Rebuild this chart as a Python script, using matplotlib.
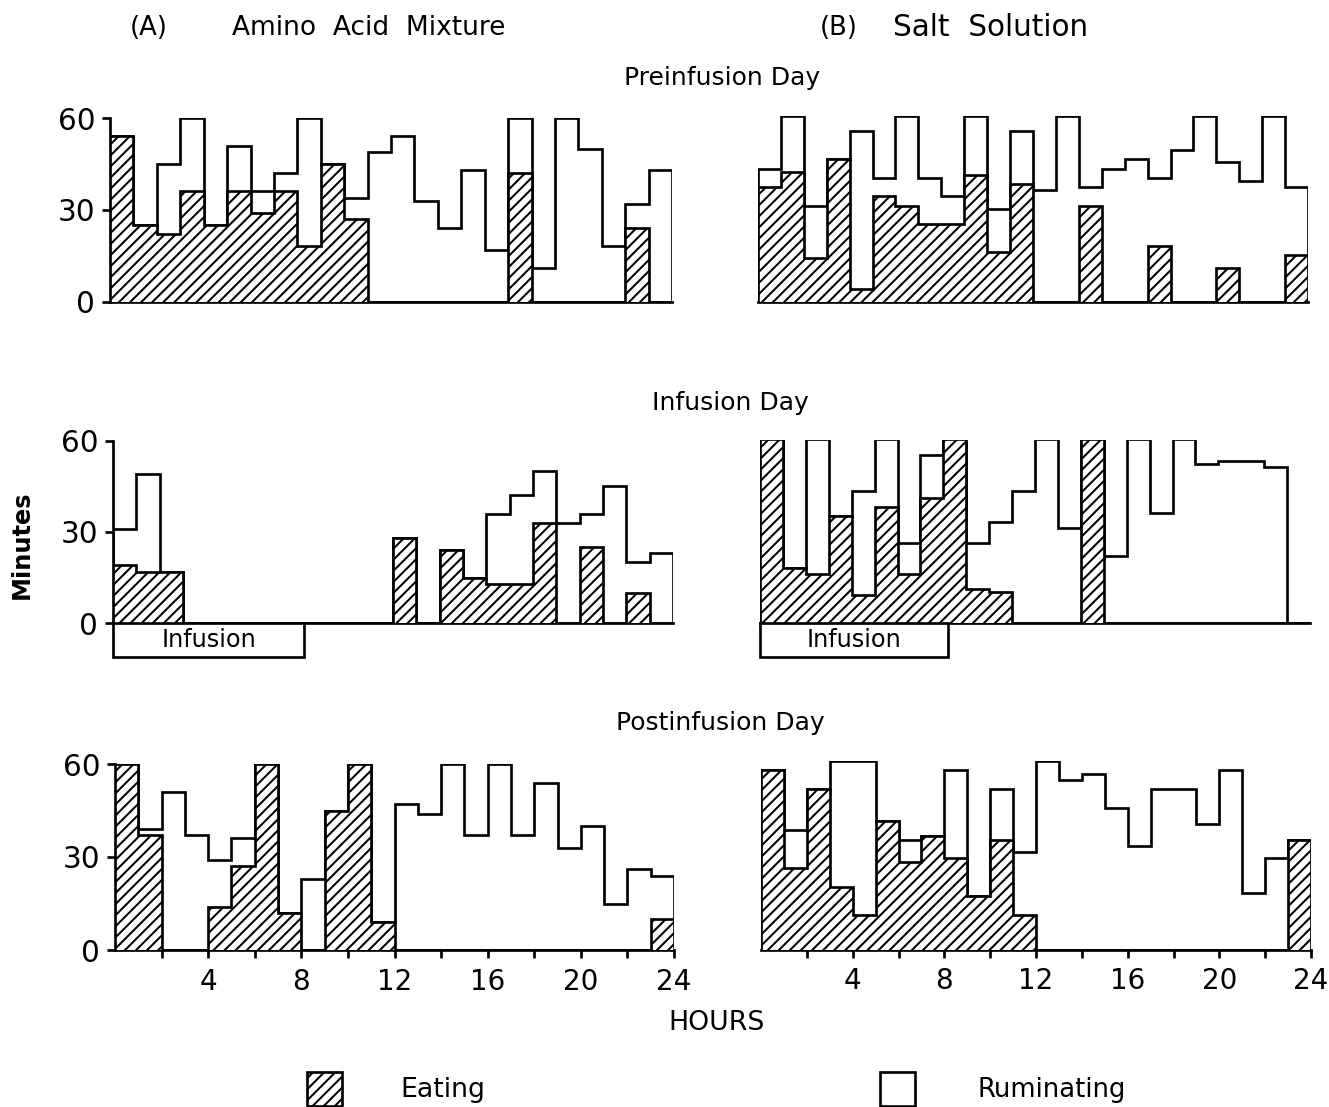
import numpy as np
import matplotlib
matplotlib.use("Agg")
import matplotlib.pyplot as plt
from matplotlib.patches import Rectangle

plt.rcParams['font.family'] = ['DejaVu Sans']
plt.rcParams['hatch.linewidth'] = 1.1
plt.rcParams['hatch.color'] = 'black'

# Hour edges of the 24 one-hour bins
hour_edges = np.arange(25)

# Minutes per hour spent eating and ruminating (ruminating sits on top of eating)
pre_a_eat = [54, 25, 22, 36, 25, 36, 29, 36, 18, 45, 27, 0, 0, 0, 0, 0, 0, 42, 0, 0, 0, 0, 24, 0]
pre_a_rum = [0, 0, 23, 24, 0, 15, 7, 6, 42, 0, 7, 49, 54, 33, 24, 43, 17, 18, 11, 60, 50, 18, 8, 43]

pre_b_eat = [37, 42, 14, 46, 4, 34, 31, 25, 25, 41, 16, 38, 0, 0, 31, 0, 0, 18, 0, 0, 11, 0, 0, 15]
pre_b_rum = [6, 18, 17, 0, 51, 6, 29, 15, 9, 19, 14, 17, 36, 60, 6, 43, 46, 22, 49, 60, 34, 39, 60, 22]

inf_a_eat = [19, 17, 17, 0, 0, 0, 0, 0, 0, 0, 0, 0, 28, 0, 24, 15, 13, 13, 33, 0, 25, 0, 10, 0]
inf_a_rum = [12, 32, 0, 0, 0, 0, 0, 0, 0, 0, 0, 0, 0, 0, 0, 0, 23, 29, 17, 33, 11, 45, 10, 23]

inf_b_eat = [60, 18, 16, 35, 9, 38, 16, 41, 60, 11, 10, 0, 0, 0, 60, 0, 0, 0, 0, 0, 0, 0, 0, 0]
inf_b_rum = [0, 0, 44, 0, 34, 22, 10, 14, 0, 15, 23, 43, 60, 31, 0, 22, 60, 36, 60, 52, 53, 53, 51, 0]

post_a_eat = [60, 37, 0, 0, 14, 27, 60, 12, 0, 45, 60, 9, 0, 0, 0, 0, 0, 0, 0, 0, 0, 0, 0, 10]
post_a_rum = [0, 2, 51, 37, 15, 9, 0, 0, 23, 0, 0, 0, 47, 44, 60, 37, 60, 37, 54, 33, 40, 15, 26, 14]

post_b_eat = [57, 26, 51, 20, 11, 41, 28, 36, 29, 17, 35, 11, 0, 0, 0, 0, 0, 0, 0, 0, 0, 0, 0, 35]
post_b_rum = [0, 12, 0, 40, 49, 0, 7, 0, 28, 0, 16, 20, 60, 54, 56, 45, 33, 51, 51, 40, 57, 18, 29, 0]

# Infusion period (hours) marked under the infusion-day panels
infusion_span = (0, 8.2)

y_ticks = [0, 30, 60]
x_ticks = list(range(2, 25, 2))
x_labels = ['' if h % 4 else str(h) for h in x_ticks]

W, H = 1329, 1107
DPI = 133
fig = plt.figure(figsize=(W / DPI, H / DPI), dpi=DPI)
fig.patch.set_facecolor('white')

LW = 1.45
HATCH = '////'


def add_panel(x0, x24, base, top60):
    return fig.add_axes([x0 / W, 1 - base / H, (x24 - x0) / W, (base - top60) / H])


def draw_panel(ax, eat, rum, left_col, bottom_row, infusion=False):
    eat = np.asarray(eat, float)
    total = eat + np.asarray(rum, float)
    # Outline of total activity per hour
    ax.stairs(total, hour_edges, baseline=0, fill=False, color='black',
              linewidth=LW, zorder=2)
    # Eating portion, hatched
    ax.stairs(eat, hour_edges, baseline=0, fill=True, facecolor='white',
              edgecolor='black', hatch=HATCH, linewidth=LW, zorder=3)
    ax.set_xlim(0, 24)
    ax.set_ylim(0, 60)
    for s in ('top', 'right'):
        ax.spines[s].set_visible(False)
    ax.spines['bottom'].set_linewidth(LW)
    ax.spines['left'].set_linewidth(LW)
    ax.spines['left'].set_bounds(0, 60)
    ax.set_facecolor('none')
    if left_col:
        ax.set_yticks(y_ticks)
        ax.tick_params(axis='y', direction='out', length=4.5, width=LW,
                       labelsize=16, pad=3.5)
    else:
        ax.spines['left'].set_visible(False)
        ax.set_yticks([])
    if bottom_row:
        ax.set_xticks(x_ticks)
        ax.set_xticklabels(x_labels)
        ax.tick_params(axis='x', direction='out', length=4.5, width=LW,
                       labelsize=15, pad=5)
    else:
        ax.set_xticks([])
    if infusion:
        start, end = infusion_span
        ax.add_patch(Rectangle((start, -11), end - start, 11, facecolor='white',
                               edgecolor='black', linewidth=LW, clip_on=False,
                               zorder=4))
        ax.text((start + end) / 2, -5.5, 'Infusion', ha='center', va='center',
                fontsize=13, clip_on=False, zorder=5)


ax = add_panel(110, 672, 301.5, 118)
draw_panel(ax, pre_a_eat, pre_a_rum, True, False)
ax = add_panel(758, 1308, 301.7, 116)
draw_panel(ax, pre_b_eat, pre_b_rum, False, False)
ax = add_panel(113, 673, 623.3, 440.7)
draw_panel(ax, inf_a_eat, inf_a_rum, True, False, infusion=True)
ax = add_panel(760, 1310, 623.0, 439.5)
draw_panel(ax, inf_b_eat, inf_b_rum, False, False, infusion=True)
ax = add_panel(115, 674, 950, 764)
draw_panel(ax, post_a_eat, post_a_rum, True, True)
ax = add_panel(761, 1311, 949.5, 761)
draw_panel(ax, post_b_eat, post_b_rum, False, True)

# Titles, axis names and legend
ov = fig.add_axes([0, 0, 1, 1])
ov.set_xlim(0, W)
ov.set_ylim(H, 0)
ov.axis('off')
ov.set_zorder(-1)

ov.text(130, 28, '(A)', ha='left', va='center', fontsize=14)
ov.text(232, 28, 'Amino  Acid  Mixture', ha='left', va='center', fontsize=14.3)
ov.text(820, 28, '(B)', ha='left', va='center', fontsize=14)
ov.text(893, 28, 'Salt  Solution', ha='left', va='center', fontsize=16)
ov.text(722, 78, 'Preinfusion Day', ha='center', va='center', fontsize=13.5)
ov.text(730, 403, 'Infusion Day', ha='center', va='center', fontsize=13.5)
ov.text(720, 723, 'Postinfusion Day', ha='center', va='center', fontsize=13.5)
ov.text(22, 545, 'Minutes', ha='center', va='center', rotation=90,
        fontsize=13, fontweight='bold')
ov.text(717, 1023, 'HOURS', ha='center', va='center', fontsize=14.5)

ov.add_patch(Rectangle((307, 1072), 35, 34, facecolor='white', edgecolor='black',
                       hatch=HATCH, linewidth=LW))
ov.text(400, 1090, 'Eating', ha='left', va='center', fontsize=14.5)
ov.add_patch(Rectangle((880, 1072), 35, 34, facecolor='white', edgecolor='black',
                       linewidth=LW))
ov.text(978, 1090, 'Ruminating', ha='left', va='center', fontsize=14)

fig.savefig('out.png', dpi=DPI, facecolor='white')
